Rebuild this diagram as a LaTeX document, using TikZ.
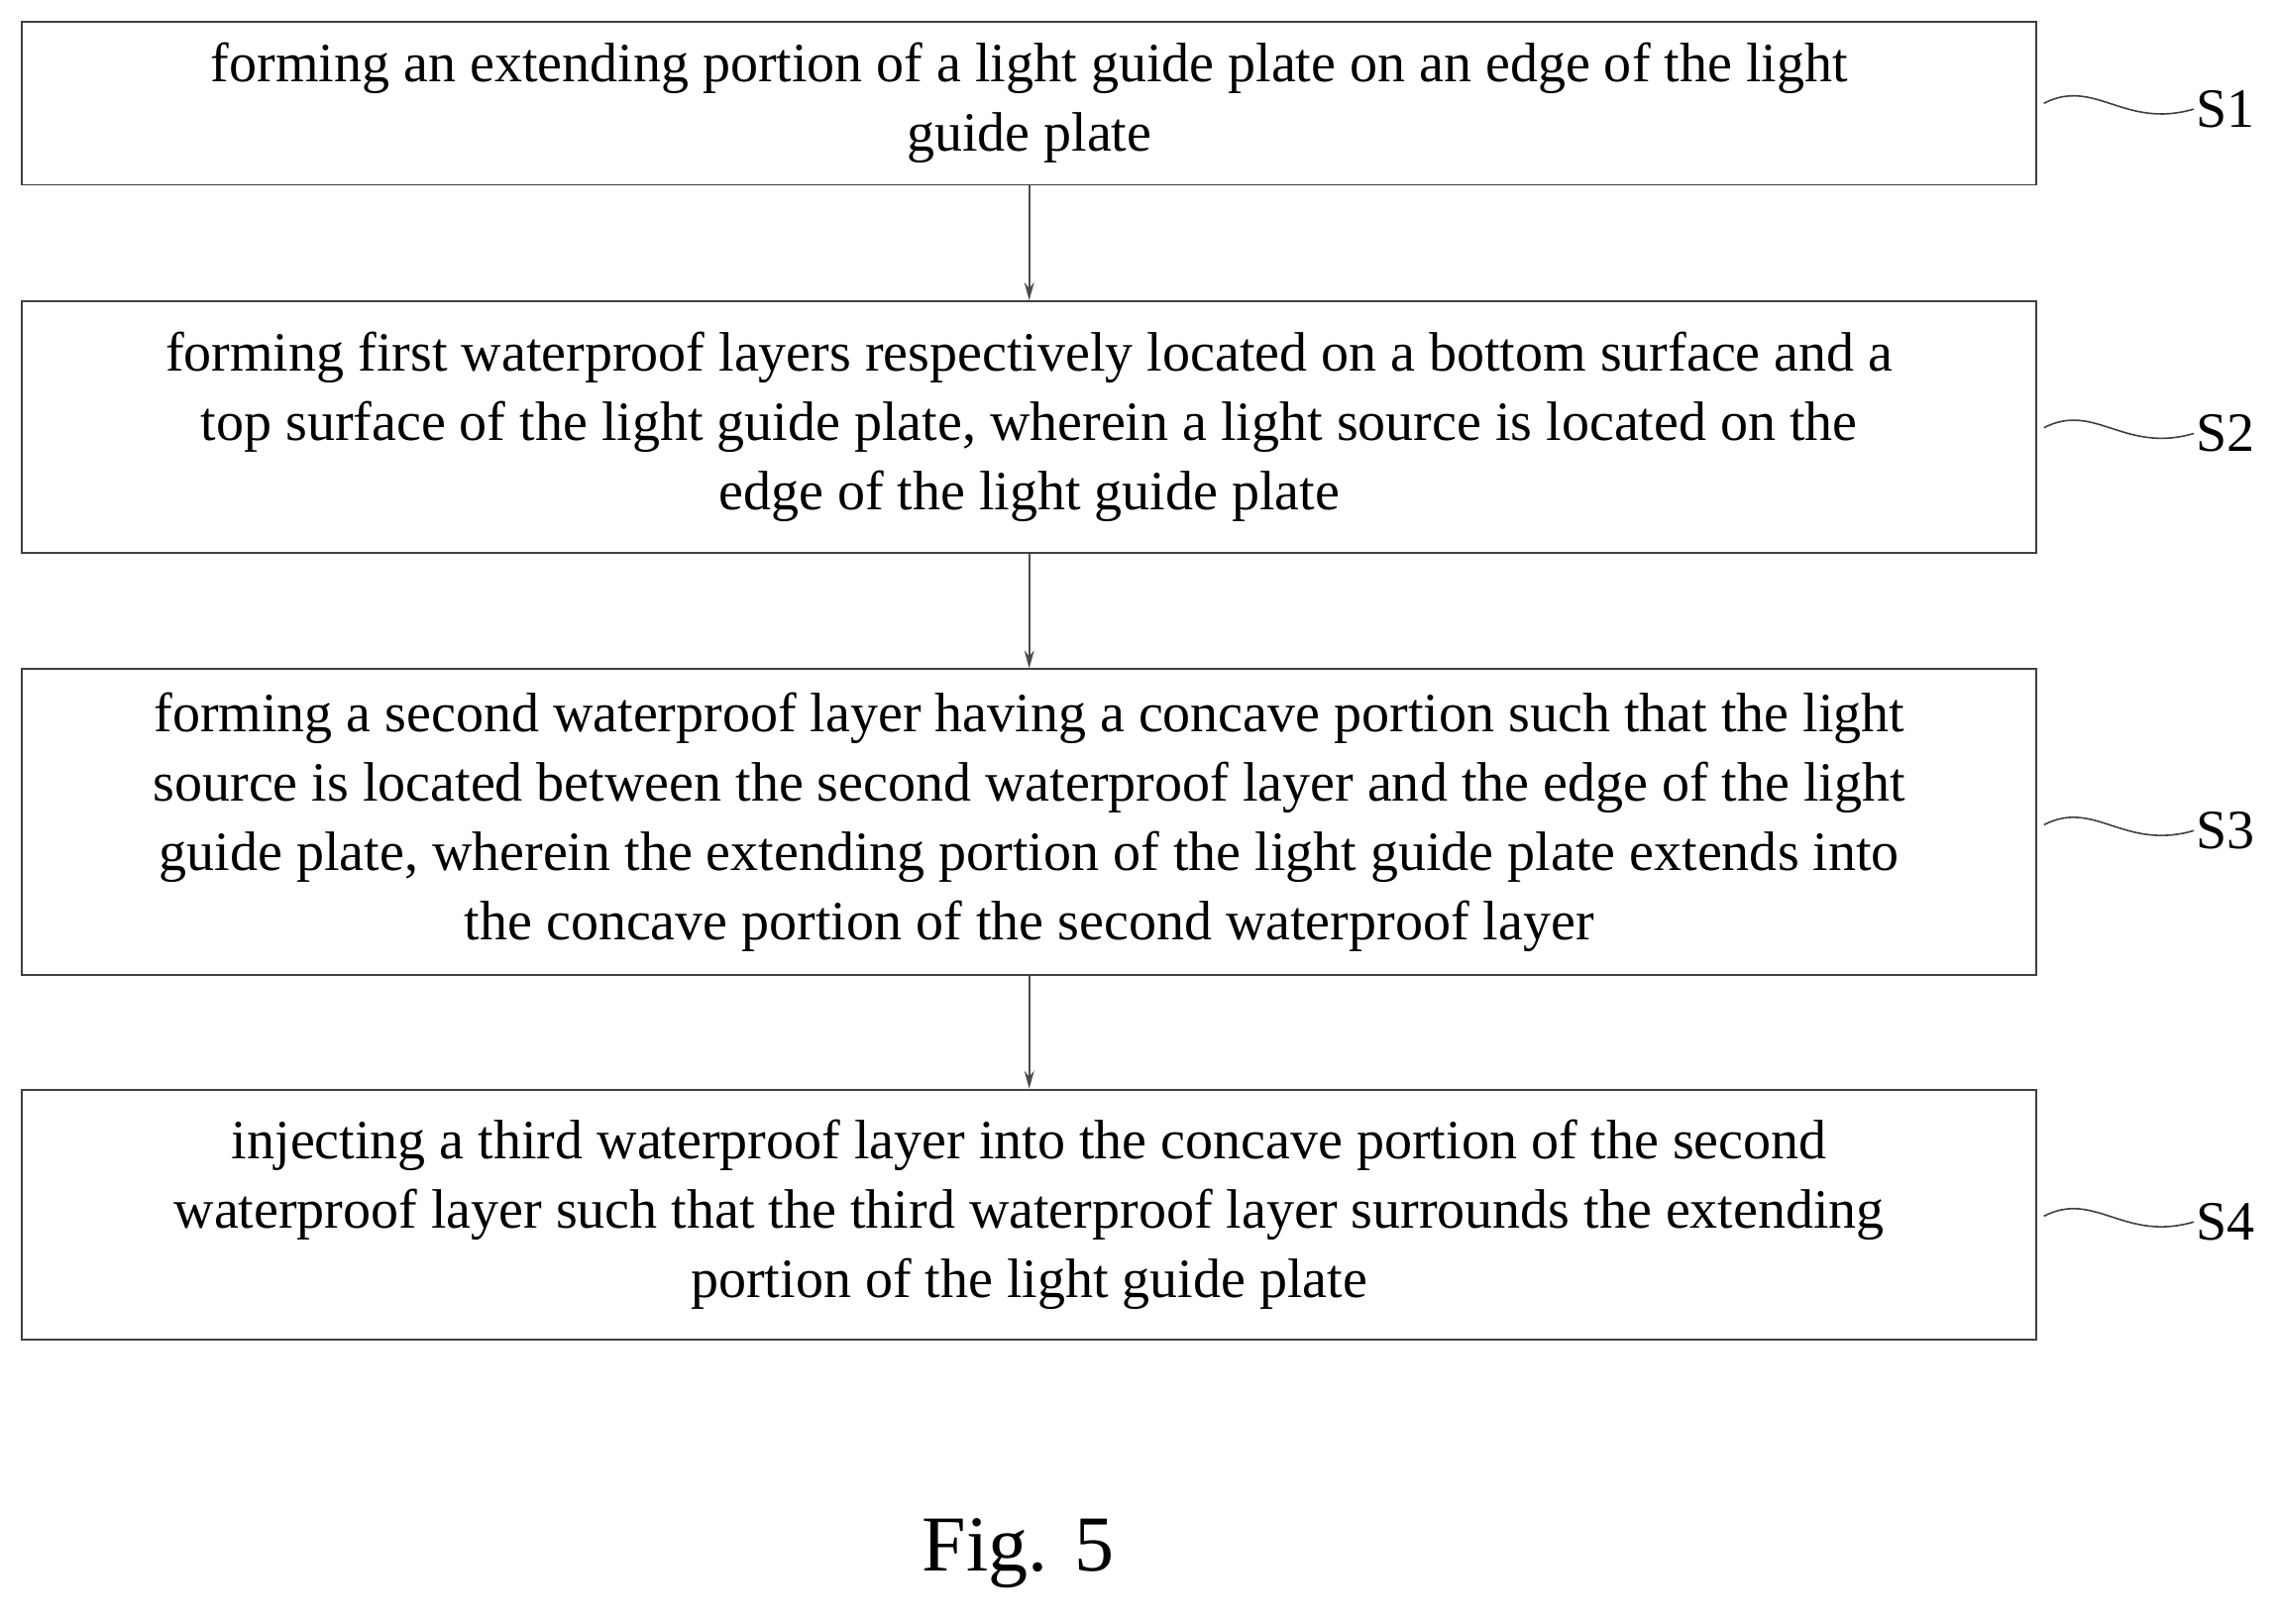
\documentclass[tikz,border=0pt]{standalone}
\usepackage{fontspec}
\setmainfont{Liberation Serif}
\usetikzlibrary{arrows.meta}
\begin{document}
\begin{tikzpicture}[x=0.734pt,y=-0.734pt,
  stepbox/.style={draw=black!75,line width=0.9pt,minimum width=1385*0.734pt,align=center,font=\fontsize{28}{35}\selectfont,inner sep=0pt},
  lab/.style={font=\fontsize{28}{34}\selectfont,anchor=west,inner sep=1pt},
  conn/.style={draw=black!70,line width=0.8pt,-{Stealth[length=9pt,width=5pt]}},
  sq/.style={draw=black!75,line width=0.8pt}]
\useasboundingbox (0,0) rectangle (1568,1116);
\node[stepbox,minimum height=112*0.734pt] (b1) at (707.5,71) {forming an extending portion of a light guide plate on an edge of the light\\guide plate};
\node[stepbox,minimum height=173*0.734pt] (b2) at (707.5,293.5) {forming first waterproof layers respectively located on a bottom surface and a\\top surface of the light guide plate, wherein a light source is located on the\\edge of the light guide plate};
\node[stepbox,minimum height=210*0.734pt] (b3) at (707.5,565) {forming a second waterproof layer having a concave portion such that the light\\source is located between the second waterproof layer and the edge of the light\\guide plate, wherein the extending portion of the light guide plate extends into\\the concave portion of the second waterproof layer};
\node[stepbox,minimum height=172*0.734pt] (b4) at (707.5,835) {injecting a third waterproof layer into the concave portion of the second\\waterproof layer such that the third waterproof layer surrounds the extending\\portion of the light guide plate};
\draw[conn] (b1) -- (b2);
\draw[conn] (b2) -- (b3);
\draw[conn] (b3) -- (b4);
\foreach \i/\y in {1/75,2/298,3/571,4/840}{
  \node[lab] (s\i) at (1508,\y) {S\i};
  \coordinate (c\i) at (1405,\y-4);
  \draw[sq] (c\i) .. controls (1440,\y-22) and (1460,\y+14) .. (s\i.west);
}
\node[font=\fontsize{40}{48}\selectfont] (fig) at (700,1068) {Fig. 5};
\end{tikzpicture}
\end{document}
